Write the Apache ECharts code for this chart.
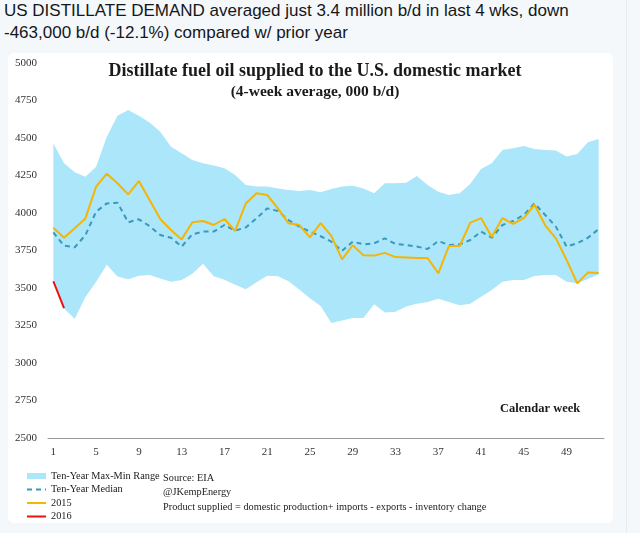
<!DOCTYPE html>
<html>
<head>
<meta charset="utf-8">
<script src="https://cdn.jsdelivr.net/npm/echarts@6/dist/echarts.min.js"></script>
<style>
  html, body { margin: 0; padding: 0; background: #f5f8fa; }
  #tweet { position: absolute; left: 4px; top: 0px; width: 600px; font-family: "Liberation Sans", Arial, sans-serif;
           font-size: 17px; line-height: 22px; color: #14171a; }
  #card { position: absolute; left: 8px; top: 53px; width: 605px; height: 470px; background: #fff; border-radius: 6px; }
  #side { position: absolute; left: 626px; top: 0; width: 14px; height: 533px; border-left: 1px solid #e6ecf0; background: #f5f8fa; }
  #main { position: absolute; left: 0; top: 0; width: 640px; height: 533px; }
</style>
</head>
<body>
<div id="tweet">US DISTILLATE DEMAND averaged just 3.4 million b/d in last 4 wks, down<br>-463,000 b/d (-12.1%) compared w/ prior year</div>
<div id="card"></div>
<div id="side"></div>
<div id="main"></div>
<script>
// weekly values, 000 b/d
var weeks = [];
for (var w = 1; w <= 52; w++) weeks.push(String(w));

var rangeMax = [4464,4331,4271,4242,4309,4509,4649,4687,4649,4604,4542,4442,4398,
                4353,4331,4316,4298,4253,4187,4176,4176,4164,4153,4147,4153,4138,
                4160,4176,4182,4164,4131,4198,4198,4202,4247,4187,4142,4120,4131,
                4195,4293,4331,4420,4431,4447,4427,4420,4416,4376,4393,4471,4493];

var rangeMin = [3553,3364,3295,3440,3542,3655,3576,3558,3582,3587,3564,3542,3553,
                3595,3662,3578,3555,3522,3492,3538,3581,3579,3545,3490,3431,3380,
                3266,3284,3300,3300,3391,3337,3342,3376,3395,3406,3429,3406,3385,
                3395,3442,3487,3542,3553,3553,3580,3587,3587,3542,3531,3560,3590];

var median = [3871,3782,3771,3853,4009,4064,4069,3938,3958,3913,3853,3835,3776,
              3858,3876,3876,3920,3882,3904,3964,4031,4013,3953,3909,3876,3845,
              3809,3747,3809,3791,3798,3831,3793,3787,3776,3760,3813,3787,3791,
              3820,3876,3835,3920,3947,3987,4064,3987,3909,3776,3798,3835,3893];

var y2015 = [3902,3835,3898,3964,4176,4262,4198,4124,4213,4087,3960,3887,3824,
             3938,3947,3920,3960,3880,4064,4131,4120,4031,3931,3920,3838,3933,
             3848,3691,3785,3718,3716,3734,3706,3704,3700,3700,3598,3780,3780,
             3936,3966,3840,3966,3927,3966,4055,3918,3831,3687,3531,3604,3600];

var y2016 = [3545,3366];

(function(){
    var myChart = echarts.init(document.getElementById('main'));
    var serif = '"Liberation Serif", "DejaVu Serif", serif';

    var spread = [];
    for (var i = 0; i < rangeMax.length; i++) spread.push(rangeMax[i] - rangeMin[i]);

    var option = {
        animation: false,
        title: [{
            text: 'Distillate fuel oil supplied to the U.S. domestic market',
            left: 310, top: 57, textAlign: 'center',
            textStyle: { fontFamily: serif, fontSize: 18, fontWeight: 'bold', color: '#1a1a1a' }
        }, {
            text: '(4-week average, 000 b/d)',
            left: 310, top: 79, textAlign: 'center',
            textStyle: { fontFamily: serif, fontSize: 15.5, fontWeight: 'bold', color: '#1a1a1a' }
        }],
        legend: {
            orient: 'vertical',
            left: 26, top: 471,
            padding: 0,
            itemWidth: 19, itemHeight: 6, itemGap: 3.5,
            itemStyle: { opacity: 0 },
            textStyle: { fontFamily: serif, fontSize: 10.3, color: '#222' },
            data: [
                { name: 'Ten-Year Max-Min Range', icon: 'rect', itemStyle: { color: '#abe6fa', opacity: 1 } },
                { name: 'Ten-Year Median' },
                { name: '2015' },
                { name: '2016' }
            ]
        },
        graphic: [{
            type: 'text', left: 500, top: 402,
            style: { text: 'Calendar week', fontFamily: serif, fontSize: 12.5, fontWeight: 'bold', fill: '#1a1a1a' }
        }, {
            type: 'text', left: 163, top: 471,
            style: { text: 'Source: EIA\n@JKempEnergy\nProduct supplied = domestic production+ imports - exports - inventory change',
                     fontFamily: serif, fontSize: 10.3, lineHeight: 14.5, fill: '#222' }
        }],
        grid: { left: 48, right: 36, top: 63, bottom: 95 },
        xAxis: {
            type: 'category',
            data: weeks,
            boundaryGap: true,
            axisLine: { lineStyle: { color: '#999' } },
            axisTick: { interval: 3, length: 4, lineStyle: { color: '#999' } },
            axisLabel: { interval: 3, fontFamily: serif, fontSize: 11, color: '#333', margin: 9 }
        },
        yAxis: {
            type: 'value',
            min: 2500, max: 5000, interval: 250,
            splitLine: { show: false },
            axisLine: { show: false },
            axisTick: { show: false },
            axisLabel: { fontFamily: serif, fontSize: 11, color: '#333', margin: 11,
                         formatter: function (v) { return String(v); } }
        },
        series: [{
            name: 'rangeBase',
            type: 'line',
            stack: 'band',
            data: rangeMin,
            symbol: 'none',
            lineStyle: { opacity: 0 },
            silent: true
        }, {
            name: 'Ten-Year Max-Min Range',
            type: 'line',
            stack: 'band',
            data: spread,
            symbol: 'none',
            lineStyle: { opacity: 0 },
            itemStyle: { color: '#abe6fa' },
            areaStyle: { color: '#abe6fa', opacity: 1 }
        }, {
            name: 'Ten-Year Median',
            type: 'line',
            data: median,
            symbol: 'none',
            itemStyle: { color: '#3a98ba' },
            lineStyle: { color: '#3a98ba', width: 2, type: [5, 4] },
            z: 3
        }, {
            name: '2015',
            type: 'line',
            data: y2015,
            symbol: 'none',
            itemStyle: { color: '#f6b500' },
            lineStyle: { color: '#f6b500', width: 2 },
            z: 4
        }, {
            name: '2016',
            type: 'line',
            data: y2016,
            symbol: 'none',
            itemStyle: { color: '#f01010' },
            lineStyle: { color: '#f01010', width: 2 },
            z: 5
        }]
    };

    myChart.setOption(option);
})();
</script>
</body>
</html>
